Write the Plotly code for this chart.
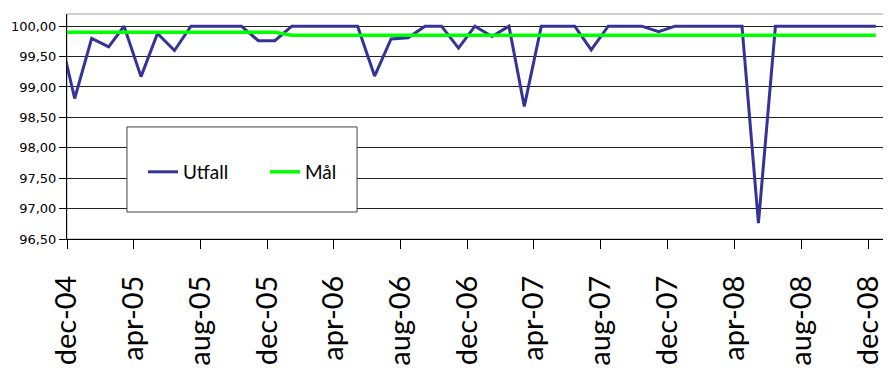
import plotly.graph_objects as go

# Monthly categories (year-month), values plotted at mid-month
months = [
    "2004-11", "2004-12", "2005-01", "2005-02", "2005-03", "2005-04", "2005-05", "2005-06",
    "2005-07", "2005-08", "2005-09", "2005-10", "2005-11", "2005-12", "2006-01", "2006-02",
    "2006-03", "2006-04", "2006-05", "2006-06", "2006-07", "2006-08", "2006-09", "2006-10",
    "2006-11", "2006-12", "2007-01", "2007-02", "2007-03", "2007-04", "2007-05", "2007-06",
    "2007-07", "2007-08", "2007-09", "2007-10", "2007-11", "2007-12", "2008-01", "2008-02",
    "2008-03", "2008-04", "2008-05", "2008-06", "2008-07", "2008-08", "2008-09", "2008-10",
    "2008-11", "2008-12",
]

utfall = [
    99.97, 98.81, 99.80, 99.66, 100.00, 99.17, 99.88, 99.60,
    100.00, 100.00, 100.00, 100.00, 99.76, 99.76, 100.00, 100.00,
    100.00, 100.00, 100.00, 99.18, 99.79, 99.81, 100.00, 100.00,
    99.64, 100.00, 99.83, 100.00, 98.68, 100.00, 100.00, 100.00,
    99.61, 100.00, 100.00, 100.00, 99.91, 100.00, 100.00, 100.00,
    100.00, 100.00, 96.76, 100.00, 100.00, 100.00, 100.00, 100.00,
    100.00, 100.00,
]

mal = [
    99.90, 99.90, 99.90, 99.90, 99.90, 99.90, 99.90, 99.90,
    99.90, 99.90, 99.90, 99.90, 99.90, 99.90, 99.85, 99.85,
    99.85, 99.85, 99.85, 99.85, 99.85, 99.85, 99.85, 99.85,
    99.85, 99.85, 99.85, 99.85, 99.85, 99.85, 99.85, 99.85,
    99.85, 99.85, 99.85, 99.85, 99.85, 99.85, 99.85, 99.85,
    99.85, 99.85, 99.85, 99.85, 99.85, 99.85, 99.85, 99.85,
    99.85, 99.85,
]

tick_dates = [
    "2004-12-01", "2005-04-01", "2005-08-01", "2005-12-01", "2006-04-01",
    "2006-08-01", "2006-12-01", "2007-04-01", "2007-08-01", "2007-12-01",
    "2008-04-01", "2008-08-01", "2008-12-01",
]
tick_labels = [
    "dec-04", "apr-05", "aug-05", "dec-05", "apr-06", "aug-06", "dec-06",
    "apr-07", "aug-07", "dec-07", "apr-08", "aug-08", "dec-08",
]

x_dates = [m + "-15" for m in months]

fig = go.Figure()
fig.add_trace(go.Scatter(
    x=x_dates, y=utfall, name="Utfall", mode="lines",
    line=dict(color="#333399", width=3),
))
fig.add_trace(go.Scatter(
    x=x_dates, y=mal, name="Mål", mode="lines",
    line=dict(color="#00FF00", width=3.5),
))

# legend frame
fig.add_shape(type="rect", xref="paper", yref="paper",
              x0=0.0734, x1=0.355, y0=0.12, y1=0.498,
              fillcolor="white", line=dict(color="#404040", width=1),
              layer="above")

fig.add_shape(type="rect", xref="paper", yref="paper",
              x0=0, x1=1, y0=0, y1=1,
              line=dict(color="#a0a0a0", width=1), layer="below")

# page body has an 8px margin, so the figure is sized to fit the window
fig.update_layout(
    width=883, height=361,
    margin=dict(l=59, r=7, t=6, b=130, autoexpand=False),
    paper_bgcolor="white", plot_bgcolor="white",
    separators=", ",
    font=dict(family="Lato, sans-serif", color="black"),
    showlegend=True,
    legend=dict(
        orientation="h", x=0.093, xanchor="left", y=0.298, yanchor="middle",
        bgcolor="rgba(0,0,0,0)", borderwidth=0,
        font=dict(family="Lato, sans-serif", size=19, color="black"),
        entrywidth=77, entrywidthmode="pixels",
    ),
    xaxis=dict(
        type="date",
        range=["2004-12-01", "2008-12-30"],
        tickvals=tick_dates, ticktext=tick_labels,
        tickangle=-90,
        tickfont=dict(family="Lato, sans-serif", size=29, color="black"),
        ticks="outside", ticklen=9, tickcolor="black", tickwidth=1,
        showline=True, linecolor="black", linewidth=1,
        showgrid=False, zeroline=False,
        ticklabelstandoff=15, automargin=False,
    ),
    yaxis=dict(
        range=[96.5, 100.2],
        tickmode="linear", tick0=96.5, dtick=0.5,
        tickformat=".2f",
        tickfont=dict(family="DejaVu Sans, sans-serif", size=13, color="black"),
        ticks="outside", ticklen=7, tickcolor="black", tickwidth=1,
        showline=True, linecolor="black", linewidth=1,
        showgrid=True, gridcolor="#222222", gridwidth=1,
        zeroline=False, automargin=False,
    ),
)

fig.write_html("out.html")
